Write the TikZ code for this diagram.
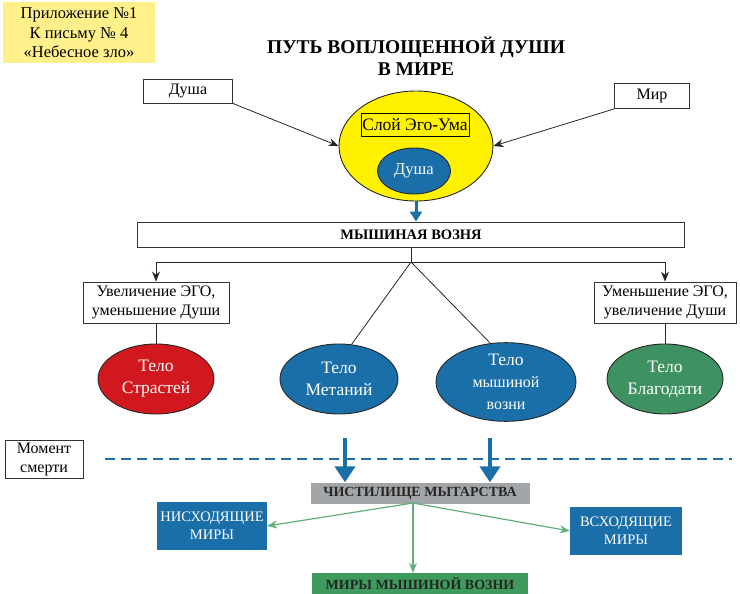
\documentclass[tikz,border=0pt]{standalone}
\usepackage{fontspec}
\setmainfont{Liberation Serif}
\usetikzlibrary{arrows.meta,shapes.geometric}
\definecolor{noteyellow}{HTML}{FFF08C}
\definecolor{egoyellow}{HTML}{FFF100}
\definecolor{soulblue}{HTML}{1B6FA8}
\definecolor{passred}{HTML}{D2181F}
\definecolor{gracegreen}{HTML}{3E9160}
\definecolor{boxgreen}{HTML}{3F9A5E}
\definecolor{purgegray}{HTML}{A3A6A9}
\definecolor{flowgreen}{HTML}{5FAF7A}
\begin{document}
\begin{tikzpicture}[x=1pt,y=-1pt,
 wbox/.style={draw=black!80, line width=0.9pt, fill=white, inner sep=0pt, align=center, font=\fontsize{16}{19}\selectfont},
 ell/.style={ellipse, draw=black!85, line width=0.9pt, inner sep=0pt, text=white, align=center, font=\fontsize{17.5}{22}\selectfont},
 blk/.style={-{Stealth[length=10pt,width=8pt]}, line width=0.8pt, draw=black!85},
 bigblue/.style={draw=soulblue, line width=4pt, -{Triangle[length=16pt,width=20pt]}},
 smallblue/.style={draw=soulblue, line width=3pt, -{Triangle[length=10pt,width=12pt]}},
 garrow/.style={draw=flowgreen, line width=1.2pt, -{Stealth[length=10pt,width=8pt]}},
 filled/.style={inner sep=0pt, align=center, font=\bfseries\fontsize{14}{17}\selectfont},
]
\useasboundingbox (0,0) rectangle (740,594);

\node[fill=noteyellow, minimum width=152, minimum height=61, align=center, inner sep=0pt, font=\fontsize{16.5}{19.5}\selectfont] (note) at (79,33) {Приложение №1\\К письму № 4\\«Небесное зло»};

\node[font=\bfseries\fontsize{19.5}{22}\selectfont, align=center] (title) at (416,56) {ПУТЬ ВОПЛОЩЕННОЙ ДУШИ\\В МИРЕ};

\node[wbox, minimum width=89, minimum height=24] (soulin) at (188,91) {Душа};
\node[wbox, minimum width=75, minimum height=25] (world) at (652,96) {Мир};

\node[ellipse, draw=black!85, line width=0.9pt, fill=egoyellow, minimum width=154, minimum height=110] (ego) at (416,146) {};
\node[draw=black, line width=0.9pt, fill=egoyellow, minimum width=108, minimum height=23, inner sep=0pt, font=\fontsize{17.5}{19}\selectfont] (layer) at (415,125) {Слой Эго-Ума};
\node[ell, fill=soulblue, minimum width=73, minimum height=46, font=\fontsize{16.5}{19}\selectfont] (soul) at (414,171) {Душа};

\draw[blk] (soulin.south east) -- (ego.west);
\draw[blk] (world.south west) -- (ego.east);

\node[wbox, minimum width=547, minimum height=25, font=\bfseries\fontsize{14.5}{16}\selectfont] (fuss) at (411,234.5) {МЫШИНАЯ ВОЗНЯ};
\draw[smallblue] (ego.south) -- (ego.south |- fuss.north);

\coordinate (hub) at (411,262);
\node[wbox, minimum width=146, minimum height=41] (egoup) at (156,302.5) {Увеличение ЭГО,\\уменьшение Души};
\node[wbox, minimum width=142, minimum height=41] (egodown) at (665,302.5) {Уменьшение ЭГО,\\увеличение Души};
\draw[line width=0.8pt, draw=black!85] (fuss.south) -- (hub);
\draw[blk] (hub) -| (egoup.north);
\draw[blk] (hub) -| (egodown.north);

\node[ell, fill=passred, minimum width=116, minimum height=70] (pass) at (156,379) {Тело\\Страстей};
\node[ell, fill=soulblue, minimum width=118, minimum height=70] (metan) at (339,379) {Тело\\Метаний};
\node[ell, fill=soulblue, minimum width=140, minimum height=76] (fussbody) at (506,382) {Тело\\{\fontsize{16}{21}\selectfont мышиной}\\{\fontsize{16}{20}\selectfont возни}};
\node[ell, fill=gracegreen, minimum width=116, minimum height=70] (grace) at (665,379) {Тело\\Благодати};

\draw[line width=0.8pt, draw=black!85] (hub) -- (metan.70);
\draw[line width=0.8pt, draw=black!85] (hub) -- (fussbody.112);
\draw[line width=0.8pt, draw=black!85] (egoup.south) -- (pass.north);
\draw[line width=0.8pt, draw=black!85] (egodown.south) -- (grace.north);

\node[wbox, minimum width=78, minimum height=38] (death) at (44,459) {Момент\\смерти};
\coordinate (dl) at (105,459);
\coordinate (dr) at (732,459);
\draw[soulblue, line width=2.5pt, dash pattern=on 10pt off 6pt] (dl) -- (dr);

\node[filled, fill=purgegray, text=black!85, minimum width=219, minimum height=21] (purg) at (420,493) {ЧИСТИЛИЩЕ МЫТАРСТВА};
\coordinate (a1) at (345,438);
\coordinate (a2) at (490,438);
\draw[bigblue] (a1) -- (a1 |- purg.north);
\draw[bigblue] (a2) -- (a2 |- purg.north);

\node[filled, fill=soulblue, text=white, font=\fontsize{14.5}{18}\selectfont, minimum width=110, minimum height=48] (down) at (212,526) {НИСХОДЯЩИЕ\\МИРЫ};
\node[filled, fill=soulblue, text=white, font=\fontsize{14.5}{18}\selectfont, minimum width=112, minimum height=48] (up) at (626,531) {ВСХОДЯЩИЕ\\МИРЫ};
\node[filled, fill=boxgreen, text=black!85, minimum width=216, minimum height=22] (mice) at (420,584) {МИРЫ МЫШИНОЙ ВОЗНИ};

\coordinate (gs) at (413,503);
\draw[garrow] (gs) -- (down.east);
\draw[garrow] (gs) -- (up.west);
\draw[garrow] (gs) -- (gs |- mice.north);
\end{tikzpicture}
\end{document}
